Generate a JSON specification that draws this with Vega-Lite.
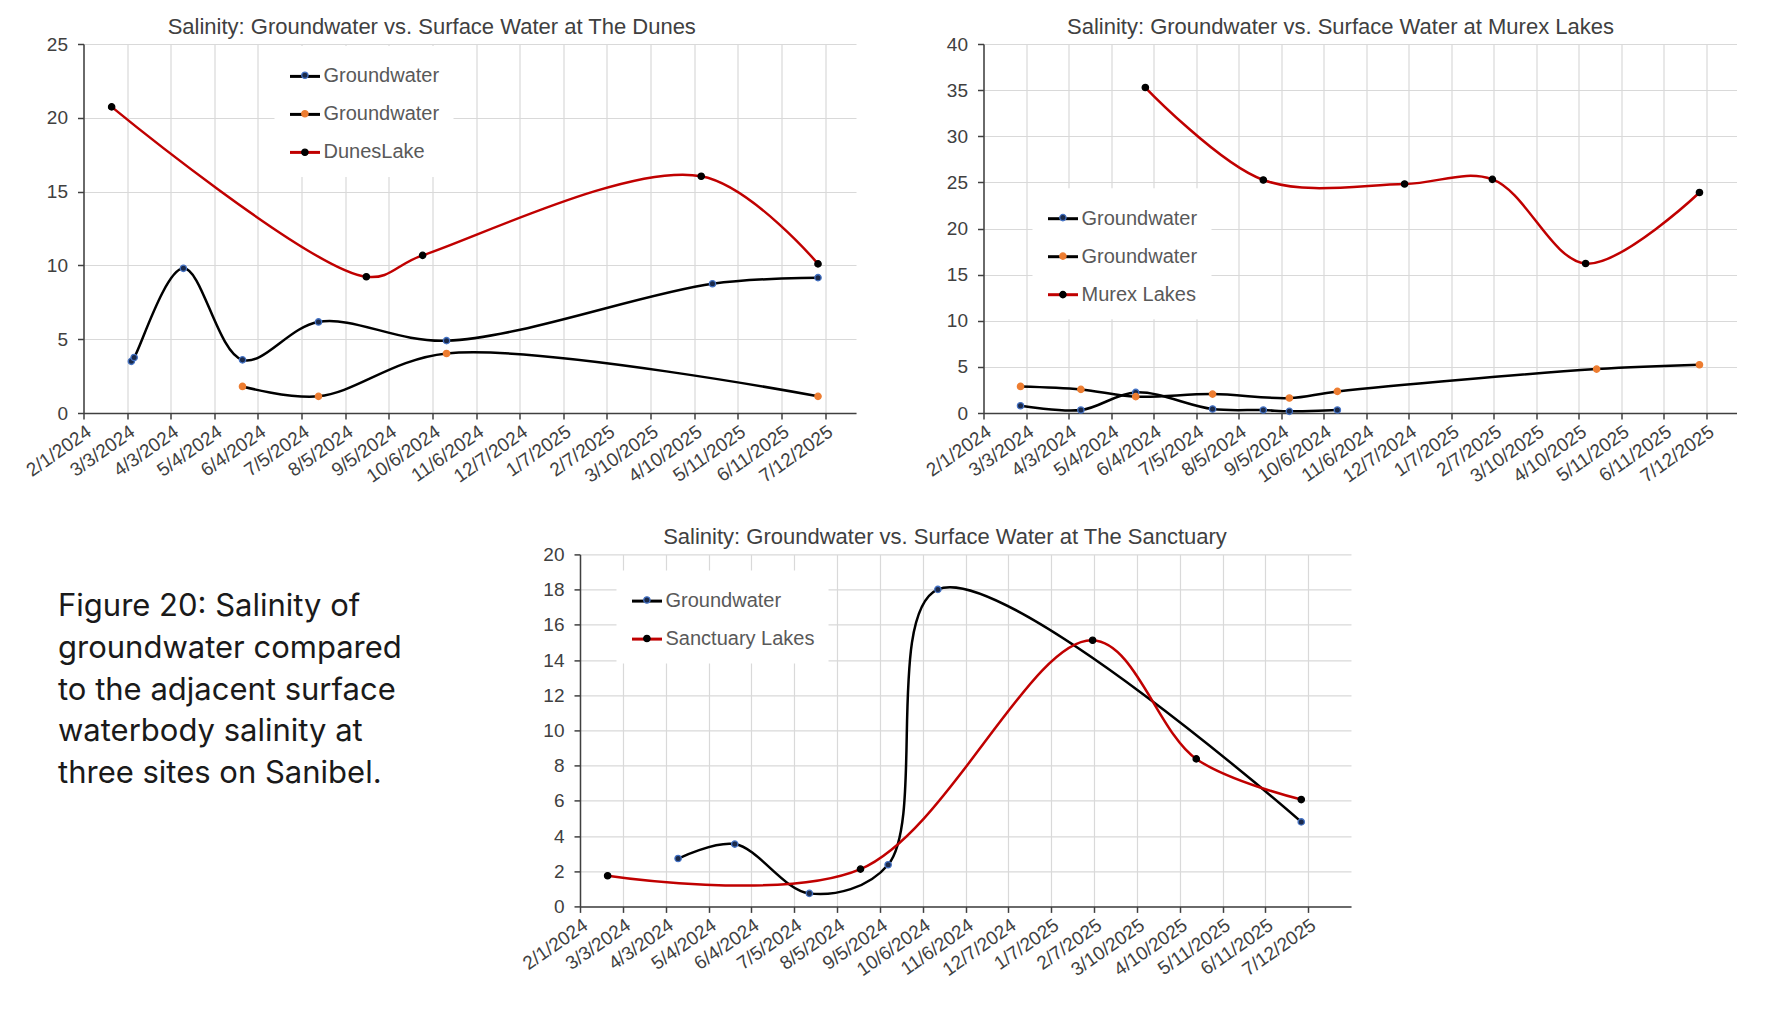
{
  "$schema": "https://vega.github.io/schema/vega-lite/v6.json",
  "background": "white",
  "padding": {"left": 22.5, "top": 16, "right": 0, "bottom": 0},
  "config": {
    "font": "Liberation Sans",
    "view": {"stroke": null},
    "axis": {
      "domainColor": "#404040", "domainWidth": 1.5,
      "tickColor": "#404040", "tickWidth": 1.5, "tickSize": 6,
      "gridColor": "#D9D9D9", "gridWidth": 1.2,
      "labelFont": "Liberation Sans", "labelFontSize": 19, "labelColor": "#404040",
      "labelPadding": 3, "labelFlush": false, "labelOverlap": false, "title": null
    },
    "title": {"font": "Liberation Sans", "fontSize": 22, "fontWeight": "normal", "color": "#404040", "frame": "group", "offset": -4}
  },
  "resolve": {"scale": {"color": "independent", "fill": "independent", "stroke": "independent"}},
  "spacing": 39.4,
  "vconcat": [
    {
      "bounds": "flush",
      "spacing": 127,
      "resolve": {"scale": {"color": "independent", "fill": "independent", "stroke": "independent"}},
      "hconcat": [
        {
          "width": 772.5, "height": 369,
          "title": {"text": "Salinity: Groundwater vs. Surface Water at The Dunes", "dx": -38},
          "data": {
            "values": [
              {"date": "2024-03-06", "series": "GW1", "value": 3.5},
              {"date": "2024-03-08", "series": "GW1", "value": 3.76},
              {"date": "2024-04-12", "series": "GW1", "value": 9.8},
              {"date": "2024-05-24", "series": "GW1", "value": 3.6},
              {"date": "2024-07-17", "series": "GW1", "value": 6.17},
              {"date": "2024-10-16", "series": "GW1", "value": 4.9},
              {"date": "2025-04-23", "series": "GW1", "value": 8.76},
              {"date": "2025-07-07", "series": "GW1", "value": 9.17},
              {"date": "2024-05-24", "series": "GW2", "value": 1.8},
              {"date": "2024-07-17", "series": "GW2", "value": 1.13},
              {"date": "2024-10-16", "series": "GW2", "value": 4.03},
              {"date": "2025-07-07", "series": "GW2", "value": 1.13},
              {"date": "2024-02-21", "series": "Lake", "value": 20.74},
              {"date": "2024-08-20", "series": "Lake", "value": 9.23},
              {"date": "2024-09-29", "series": "Lake", "value": 10.68},
              {"date": "2025-04-15", "series": "Lake", "value": 16.04},
              {"date": "2025-07-07", "series": "Lake", "value": 10.1}
            ],
            "format": {"parse": {"date": "date:'%Y-%m-%d'"}}
          },
          "encoding": {
            "x": {
              "field": "date", "type": "temporal",
              "scale": {"domain": [{"year": 2024, "month": 2, "date": 1}, {"year": 2025, "month": 8, "date": 3}], "nice": false},
              "axis": {
                "format": "%-m/%-d/%Y", "labelAngle": -35, "grid": true,
                "values": [
                  {"year": 2024, "month": 2, "date": 1}, {"year": 2024, "month": 3, "date": 3},
                  {"year": 2024, "month": 4, "date": 3}, {"year": 2024, "month": 5, "date": 4},
                  {"year": 2024, "month": 6, "date": 4}, {"year": 2024, "month": 7, "date": 5},
                  {"year": 2024, "month": 8, "date": 5}, {"year": 2024, "month": 9, "date": 5},
                  {"year": 2024, "month": 10, "date": 6}, {"year": 2024, "month": 11, "date": 6},
                  {"year": 2024, "month": 12, "date": 7}, {"year": 2025, "month": 1, "date": 7},
                  {"year": 2025, "month": 2, "date": 7}, {"year": 2025, "month": 3, "date": 10},
                  {"year": 2025, "month": 4, "date": 10}, {"year": 2025, "month": 5, "date": 11},
                  {"year": 2025, "month": 6, "date": 11}, {"year": 2025, "month": 7, "date": 12}
                ]
              }
            },
            "y": {
              "field": "value", "type": "quantitative",
              "scale": {"domain": [0, 25], "nice": false},
              "axis": {"values": [0, 5, 10, 15, 20, 25], "labelPadding": 10}
            }
          },
          "layer": [
            {
              "mark": {"type": "line", "interpolate": "catmull-rom", "strokeWidth": 2.5},
              "encoding": {
                "color": {
                  "field": "series", "type": "nominal",
                  "scale": {"domain": ["GW1", "GW2", "Lake"], "range": ["#000000", "#000000", "#C00000"]},
                  "legend": {"orient": "none", "legendX": 191, "legendY": 1.9, "title": null, "symbolType": "stroke", "symbolSize": 900, "symbolStrokeWidth": 3, "labelExpr": "datum.value == 'Lake' ? 'DunesLake' : 'Groundwater'", "labelFontSize": 20, "labelColor": "#595959", "labelOffset": 2, "rowPadding": 11, "padding": 14, "fillColor": "white"}
                }
              }
            },
            {
              "mark": {"type": "circle", "size": 40, "strokeWidth": 1.3, "opacity": 1},
              "encoding": {
                "fill": {
                  "field": "series", "type": "nominal",
                  "scale": {"range": ["#1B2A4A", "#ED7D31", "#000000"]},
                  "legend": {"orient": "none", "legendX": 203.4, "legendY": 13.3, "title": null, "symbolType": "circle", "symbolSize": 40, "symbolStrokeWidth": 1.3, "labelExpr": "''", "labelFontSize": 1, "labelOffset": 0, "rowPadding": 26.5, "padding": 14}
                },
                "stroke": {
                  "field": "series", "type": "nominal",
                  "scale": {"range": ["#4472C4", "#ED7D31", "#000000"]},
                  "legend": {"orient": "none", "legendX": 203.4, "legendY": 13.3, "title": null, "symbolType": "circle", "symbolSize": 40, "symbolStrokeWidth": 1.3, "labelExpr": "''", "labelFontSize": 1, "labelOffset": 0, "rowPadding": 26.5, "padding": 14}
                }
              }
            }
          ]
        },
        {
          "width": 753, "height": 369,
          "title": {"text": "Salinity: Groundwater vs. Surface Water at Murex Lakes", "dx": -19.5},
          "data": {
            "values": [
              {"date": "2024-02-28", "series": "GW1", "value": 0.79},
              {"date": "2024-04-12", "series": "GW1", "value": 0.32},
              {"date": "2024-05-22", "series": "GW1", "value": 2.23},
              {"date": "2024-07-17", "series": "GW1", "value": 0.43},
              {"date": "2024-08-23", "series": "GW1", "value": 0.32},
              {"date": "2024-09-11", "series": "GW1", "value": 0.18},
              {"date": "2024-10-16", "series": "GW1", "value": 0.32},
              {"date": "2024-02-28", "series": "GW2", "value": 2.88},
              {"date": "2024-04-12", "series": "GW2", "value": 2.56},
              {"date": "2024-05-22", "series": "GW2", "value": 1.77},
              {"date": "2024-07-17", "series": "GW2", "value": 2.05},
              {"date": "2024-09-11", "series": "GW2", "value": 1.62},
              {"date": "2024-10-16", "series": "GW2", "value": 2.34},
              {"date": "2025-04-23", "series": "GW2", "value": 4.76},
              {"date": "2025-07-07", "series": "GW2", "value": 5.23},
              {"date": "2024-05-29", "series": "Lake", "value": 35.28},
              {"date": "2024-08-23", "series": "Lake", "value": 25.26},
              {"date": "2024-12-04", "series": "Lake", "value": 24.83},
              {"date": "2025-02-06", "series": "Lake", "value": 25.33},
              {"date": "2025-04-15", "series": "Lake", "value": 16.2},
              {"date": "2025-07-07", "series": "Lake", "value": 23.9}
            ],
            "format": {"parse": {"date": "date:'%Y-%m-%d'"}}
          },
          "encoding": {
            "x": {
              "field": "date", "type": "temporal",
              "scale": {"domain": [{"year": 2024, "month": 2, "date": 1}, {"year": 2025, "month": 8, "date": 3}], "nice": false},
              "axis": {
                "format": "%-m/%-d/%Y", "labelAngle": -35, "grid": true,
                "values": [
                  {"year": 2024, "month": 2, "date": 1}, {"year": 2024, "month": 3, "date": 3},
                  {"year": 2024, "month": 4, "date": 3}, {"year": 2024, "month": 5, "date": 4},
                  {"year": 2024, "month": 6, "date": 4}, {"year": 2024, "month": 7, "date": 5},
                  {"year": 2024, "month": 8, "date": 5}, {"year": 2024, "month": 9, "date": 5},
                  {"year": 2024, "month": 10, "date": 6}, {"year": 2024, "month": 11, "date": 6},
                  {"year": 2024, "month": 12, "date": 7}, {"year": 2025, "month": 1, "date": 7},
                  {"year": 2025, "month": 2, "date": 7}, {"year": 2025, "month": 3, "date": 10},
                  {"year": 2025, "month": 4, "date": 10}, {"year": 2025, "month": 5, "date": 11},
                  {"year": 2025, "month": 6, "date": 11}, {"year": 2025, "month": 7, "date": 12}
                ]
              }
            },
            "y": {
              "field": "value", "type": "quantitative",
              "scale": {"domain": [0, 40], "nice": false},
              "axis": {"values": [0, 5, 10, 15, 20, 25, 30, 35, 40], "labelPadding": 10}
            }
          },
          "layer": [
            {
              "mark": {"type": "line", "interpolate": "catmull-rom", "strokeWidth": 2.5},
              "encoding": {
                "color": {
                  "field": "series", "type": "nominal",
                  "scale": {"domain": ["GW1", "GW2", "Lake"], "range": ["#000000", "#000000", "#C00000"]},
                  "legend": {"orient": "none", "legendX": 49, "legendY": 144.2, "title": null, "symbolType": "stroke", "symbolSize": 900, "symbolStrokeWidth": 3, "labelExpr": "datum.value == 'Lake' ? 'Murex Lakes' : 'Groundwater'", "labelFontSize": 20, "labelColor": "#595959", "labelOffset": 2, "rowPadding": 11, "padding": 14, "fillColor": "white"}
                }
              }
            },
            {
              "mark": {"type": "circle", "size": 40, "strokeWidth": 1.3, "opacity": 1},
              "encoding": {
                "fill": {
                  "field": "series", "type": "nominal",
                  "scale": {"range": ["#1B2A4A", "#ED7D31", "#000000"]},
                  "legend": {"orient": "none", "legendX": 61.4, "legendY": 155.6, "title": null, "symbolType": "circle", "symbolSize": 40, "symbolStrokeWidth": 1.3, "labelExpr": "''", "labelFontSize": 1, "labelOffset": 0, "rowPadding": 26.5, "padding": 14}
                },
                "stroke": {
                  "field": "series", "type": "nominal",
                  "scale": {"range": ["#4472C4", "#ED7D31", "#000000"]},
                  "legend": {"orient": "none", "legendX": 61.4, "legendY": 155.6, "title": null, "symbolType": "circle", "symbolSize": 40, "symbolStrokeWidth": 1.3, "labelExpr": "''", "labelFontSize": 1, "labelOffset": 0, "rowPadding": 26.5, "padding": 14}
                }
              }
            }
          ]
        }
      ]
    },
    {
      "bounds": "flush",
      "spacing": 96.5,
      "resolve": {"scale": {"color": "independent", "fill": "independent", "stroke": "independent"}},
      "hconcat": [
        {
          "width": 400, "height": 352,
          "data": {"values": [{"caption": "Figure 20: Salinity of\ngroundwater compared\nto the adjacent surface\nwaterbody salinity at\nthree sites on Sanibel."}]},
          "mark": {"type": "text", "lineBreak": "\n", "align": "left", "baseline": "middle", "font": "Inter", "fontSize": 31, "lineHeight": 41.6, "dx": -225.5, "dy": -123, "color": "#1A1A1A"},
          "encoding": {"text": {"field": "caption", "type": "nominal"}}
        },
        {
          "width": 771, "height": 352,
          "title": {"text": "Salinity: Groundwater vs. Surface Water at The Sanctuary", "dx": -20.5},
          "data": {
            "values": [
              {"date": "2024-04-12", "series": "GW1", "value": 2.72},
              {"date": "2024-05-23", "series": "GW1", "value": 3.54},
              {"date": "2024-07-16", "series": "GW1", "value": 0.74},
              {"date": "2024-09-11", "series": "GW1", "value": 2.37},
              {"date": "2024-10-17", "series": "GW1", "value": 18.01},
              {"date": "2025-07-07", "series": "GW1", "value": 4.8},
              {"date": "2024-02-21", "series": "Lake", "value": 1.74},
              {"date": "2024-08-22", "series": "Lake", "value": 2.12},
              {"date": "2025-02-06", "series": "Lake", "value": 15.12},
              {"date": "2025-04-22", "series": "Lake", "value": 8.38},
              {"date": "2025-07-07", "series": "Lake", "value": 6.07}
            ],
            "format": {"parse": {"date": "date:'%Y-%m-%d'"}}
          },
          "encoding": {
            "x": {
              "field": "date", "type": "temporal",
              "scale": {"domain": [{"year": 2024, "month": 2, "date": 1}, {"year": 2025, "month": 8, "date": 12}], "nice": false},
              "axis": {
                "format": "%-m/%-d/%Y", "labelAngle": -35, "grid": true,
                "values": [
                  {"year": 2024, "month": 2, "date": 1}, {"year": 2024, "month": 3, "date": 3},
                  {"year": 2024, "month": 4, "date": 3}, {"year": 2024, "month": 5, "date": 4},
                  {"year": 2024, "month": 6, "date": 4}, {"year": 2024, "month": 7, "date": 5},
                  {"year": 2024, "month": 8, "date": 5}, {"year": 2024, "month": 9, "date": 5},
                  {"year": 2024, "month": 10, "date": 6}, {"year": 2024, "month": 11, "date": 6},
                  {"year": 2024, "month": 12, "date": 7}, {"year": 2025, "month": 1, "date": 7},
                  {"year": 2025, "month": 2, "date": 7}, {"year": 2025, "month": 3, "date": 10},
                  {"year": 2025, "month": 4, "date": 10}, {"year": 2025, "month": 5, "date": 11},
                  {"year": 2025, "month": 6, "date": 11}, {"year": 2025, "month": 7, "date": 12}
                ]
              }
            },
            "y": {
              "field": "value", "type": "quantitative",
              "scale": {"domain": [0, 20], "nice": false},
              "axis": {"values": [0, 2, 4, 6, 8, 10, 12, 14, 16, 18, 20], "labelPadding": 10}
            }
          },
          "layer": [
            {
              "mark": {"type": "line", "interpolate": "catmull-rom", "strokeWidth": 2.5},
              "encoding": {
                "color": {
                  "field": "series", "type": "nominal",
                  "scale": {"domain": ["GW1", "Lake"], "range": ["#000000", "#C00000"]},
                  "legend": {"orient": "none", "legendX": 36.5, "legendY": 16.2, "title": null, "symbolType": "stroke", "symbolSize": 900, "symbolStrokeWidth": 3, "labelExpr": "datum.value == 'Lake' ? 'Sanctuary Lakes' : 'Groundwater'", "labelFontSize": 20, "labelColor": "#595959", "labelOffset": 2, "rowPadding": 11, "padding": 14, "fillColor": "white"}
                }
              }
            },
            {
              "mark": {"type": "circle", "size": 40, "strokeWidth": 1.3, "opacity": 1},
              "encoding": {
                "fill": {
                  "field": "series", "type": "nominal",
                  "scale": {"range": ["#1B2A4A", "#000000"]},
                  "legend": {"orient": "none", "legendX": 48.9, "legendY": 27.6, "title": null, "symbolType": "circle", "symbolSize": 40, "symbolStrokeWidth": 1.3, "labelExpr": "''", "labelFontSize": 1, "labelOffset": 0, "rowPadding": 26.5, "padding": 14}
                },
                "stroke": {
                  "field": "series", "type": "nominal",
                  "scale": {"range": ["#4472C4", "#000000"]},
                  "legend": {"orient": "none", "legendX": 48.9, "legendY": 27.6, "title": null, "symbolType": "circle", "symbolSize": 40, "symbolStrokeWidth": 1.3, "labelExpr": "''", "labelFontSize": 1, "labelOffset": 0, "rowPadding": 26.5, "padding": 14}
                }
              }
            }
          ]
        }
      ]
    }
  ]
}
